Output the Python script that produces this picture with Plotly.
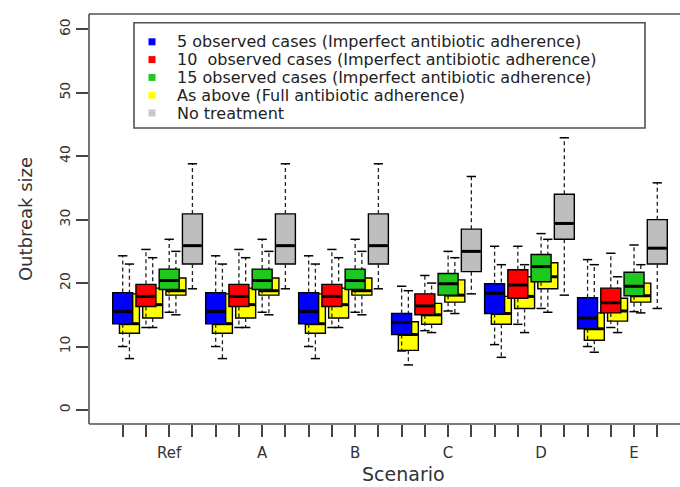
import plotly.graph_objects as go

scenarios = ["Ref", "A", "B", "C", "D", "E"]

# 5 observed cases (imperfect adherence) - blue
blue_lo  = [10.0, 10.0, 10.0, 9.3, 10.3, 10.0]
blue_q1  = [13.6, 13.6, 13.6, 11.9, 15.2, 12.8]
blue_med = [15.5, 15.5, 15.5, 13.8, 18.4, 14.5]
blue_q3  = [18.5, 18.5, 18.5, 15.2, 19.9, 17.7]
blue_hi  = [24.3, 24.3, 24.3, 19.5, 25.8, 23.7]

# 10 observed cases (imperfect adherence) - red
red_lo  = [13.0, 13.0, 13.0, 12.5, 13.5, 13.0]
red_q1  = [16.3, 16.3, 16.3, 15.0, 17.6, 15.3]
red_med = [17.9, 17.9, 17.9, 16.4, 19.7, 16.9]
red_q3  = [19.8, 19.8, 19.8, 18.3, 22.1, 19.2]
red_hi  = [25.3, 25.3, 25.3, 21.2, 25.8, 24.7]

# 15 observed cases (imperfect adherence) - green
green_lo  = [15.4, 15.4, 15.4, 15.6, 16.0, 15.5]
green_q1  = [19.0, 19.0, 19.0, 18.1, 20.2, 18.0]
green_med = [20.4, 20.4, 20.4, 19.9, 22.6, 19.5]
green_q3  = [22.2, 22.2, 22.2, 21.5, 24.5, 21.7]
green_hi  = [26.9, 26.9, 26.9, 25.0, 27.8, 26.0]

# Full adherence (yellow) for 5 / 10 / 15 observed cases
y5_lo  = [8.1, 8.1, 8.1, 7.1, 8.3, 9.1]
y5_q1  = [12.1, 12.1, 12.1, 9.4, 13.5, 11.0]
y5_med = [13.6, 13.6, 13.6, 11.9, 15.2, 12.8]
y5_q3  = [18.3, 18.3, 18.3, 13.9, 17.9, 15.3]
y5_hi  = [23.0, 23.0, 23.0, 18.8, 22.9, 22.9]

y10_lo  = [13.0, 13.0, 13.0, 12.2, 12.2, 12.2]
y10_q1  = [14.5, 14.5, 14.5, 13.5, 16.0, 14.0]
y10_med = [16.6, 16.6, 16.6, 15.0, 17.9, 15.6]
y10_q3  = [19.2, 19.2, 19.2, 16.8, 21.0, 17.6]
y10_hi  = [24.0, 24.0, 24.0, 20.0, 22.9, 21.0]

y15_lo  = [15.0, 15.0, 15.0, 15.2, 15.4, 15.3]
y15_q1  = [18.1, 18.1, 18.1, 17.0, 19.1, 17.0]
y15_med = [18.8, 18.8, 18.8, 18.1, 21.0, 18.0]
y15_q3  = [20.8, 20.8, 20.8, 20.5, 23.2, 20.0]
y15_hi  = [25.0, 25.0, 25.0, 24.0, 26.9, 22.9]

# No treatment - gray
gray_lo  = [19.1, 19.1, 19.1, 18.3, 18.1, 16.0]
gray_q1  = [23.0, 23.0, 23.0, 21.8, 26.9, 23.0]
gray_med = [25.9, 25.9, 25.9, 25.0, 29.4, 25.5]
gray_q3  = [30.9, 30.9, 30.9, 28.5, 34.0, 30.0]
gray_hi  = [38.8, 38.8, 38.8, 36.8, 42.9, 35.8]

legend_names = [
    "5 observed cases (Imperfect antibiotic adherence)",
    "10  observed cases (Imperfect antibiotic adherence)",
    "15 observed cases (Imperfect antibiotic adherence)",
    "As above (Full antibiotic adherence)",
    "No treatment",
]

BLUE, RED, GREEN, YELLOW, GRAY = "#0000ff", "#ff0000", "#1ec81e", "#ffff00", "#bebebe"
LEGEND_COLORS = [BLUE, RED, GREEN, YELLOW, "#c8c8c8"]
BOX_W = 0.86
CAP = 0.40
Y_OFF = 0.29
FONT = "DejaVu Sans"
FRAME = "#505050"

# plot-area geometry in pixels (for legend / title placement)
W, H = 680, 487
ML, MR, MT, MB = 89, 0, 14, 63
PW, PH = W - ML - MR, H - MT - MB

fig = go.Figure()


def add_series(slot, offset, lo, q1, med, q3, hi, color, z):
    xs = [1 + 4 * g + slot + offset for g in range(len(scenarios))]
    fig.add_trace(go.Box(
        x=xs, q1=q1, median=med, q3=q3, lowerfence=q1, upperfence=q3,
        width=BOX_W, fillcolor=color, line=dict(color="black", width=1.4),
        whiskerwidth=0, boxpoints=False, showlegend=False, hoverinfo="skip",
        zorder=z))
    wx, wy = [], []
    for x, a, b, c, d in zip(xs, lo, q1, q3, hi):
        wx += [x, x, None, x, x, None]
        wy += [b, a, None, c, d, None]
    fig.add_trace(go.Scatter(
        x=wx, y=wy, mode="lines",
        line=dict(color="#222222", width=1.3, dash="4px,3px"),
        showlegend=False, hoverinfo="skip", zorder=z))
    cx, cy = [], []
    for x, a, d in zip(xs, lo, hi):
        cx += [x - CAP / 2, x + CAP / 2, None, x - CAP / 2, x + CAP / 2, None]
        cy += [a, a, None, d, d, None]
    fig.add_trace(go.Scatter(
        x=cx, y=cy, mode="lines", line=dict(color="black", width=1.5),
        showlegend=False, hoverinfo="skip", zorder=z))
    mx, my = [], []
    for x, m in zip(xs, med):
        mx += [x - BOX_W / 2 + 0.03, x + BOX_W / 2 - 0.03, None]
        my += [m, m, None]
    fig.add_trace(go.Scatter(
        x=mx, y=my, mode="lines", line=dict(color="black", width=3),
        showlegend=False, hoverinfo="skip", zorder=z))


# full adherence boxes behind
add_series(0, Y_OFF, y5_lo, y5_q1, y5_med, y5_q3, y5_hi, YELLOW, 0)
add_series(1, Y_OFF, y10_lo, y10_q1, y10_med, y10_q3, y10_hi, YELLOW, 0)
add_series(2, Y_OFF, y15_lo, y15_q1, y15_med, y15_q3, y15_hi, YELLOW, 0)
# imperfect adherence + no treatment in front
add_series(0, 0, blue_lo, blue_q1, blue_med, blue_q3, blue_hi, BLUE, 1)
add_series(1, 0, red_lo, red_q1, red_med, red_q3, red_hi, RED, 1)
add_series(2, 0, green_lo, green_q1, green_med, green_q3, green_hi, GREEN, 1)
add_series(3, 0, gray_lo, gray_q1, gray_med, gray_q3, gray_hi, GRAY, 1)

n_pos = 4 * len(scenarios)
tickvals = list(range(1, n_pos + 1))
ticktext = [scenarios[i // 4] if i % 4 == 2 else "" for i in range(n_pos)]


def px_x(p):
    return (p - ML) / PW


def px_y(p):
    return (H - MB - p) / PH


# frame (left, bottom, top; right side lies outside the picture)
shapes = [
    dict(type="line", xref="paper", yref="paper", x0=0, x1=0, y0=0, y1=1,
         line=dict(color=FRAME, width=1.6), layer="above"),
    dict(type="line", xref="paper", yref="paper", x0=0, x1=1.05, y0=0, y1=0,
         line=dict(color=FRAME, width=1.6), layer="above"),
    dict(type="line", xref="paper", yref="paper", x0=0, x1=1.05, y0=1, y1=1,
         line=dict(color=FRAME, width=1.6), layer="above"),
]

# legend box
shapes.append(dict(type="rect", xref="paper", yref="paper",
                   x0=px_x(134), x1=px_x(645), y0=px_y(128), y1=px_y(22.7),
                   line=dict(color=FRAME, width=1.6), fillcolor="white", layer="above"))
annotations = []
for i, (name, col) in enumerate(zip(legend_names, LEGEND_COLORS)):
    yc = 41.8 + 17.8 * i
    shapes.append(dict(type="rect", xref="paper", yref="paper",
                       x0=px_x(152 - 3.5), x1=px_x(152 + 3.5),
                       y0=px_y(yc + 3.5), y1=px_y(yc - 3.5),
                       line=dict(width=0), fillcolor=col, layer="above"))
    annotations.append(dict(xref="paper", yref="paper", x=px_x(176), y=px_y(yc),
                            xanchor="left", yanchor="middle", showarrow=False,
                            borderpad=0,
                            text=name, font=dict(family=FONT, size=16, color="#222222")))

# x-axis title (R places it slightly right of the visible plot centre)
annotations.append(dict(xref="paper", yref="paper", x=px_x(403), y=px_y(486),
                        xanchor="center", yanchor="bottom", showarrow=False,
                        borderpad=0,
                        text="Scenario", font=dict(family=FONT, size=19, color="#333333")))

fig.update_layout(
    width=W, height=H,
    margin=dict(l=ML, r=MR, t=MT, b=MB),
    paper_bgcolor="white", plot_bgcolor="white",
    font=dict(family=FONT, size=16, color="#333333"),
    boxmode="overlay",
    showlegend=False,
    shapes=shapes,
    annotations=annotations,
    xaxis=dict(
        range=[-0.45, 24.977], tickmode="array", tickvals=tickvals, ticktext=ticktext,
        ticks="outside", ticklen=12, tickwidth=1.5, tickcolor="#444444",
        ticklabelstandoff=3,
        showline=False, showgrid=False, zeroline=False,
        tickfont=dict(family=FONT, size=15, color="#333333"),
    ),
    yaxis=dict(
        range=[-2.21, 62.41], tickmode="array", tickvals=[0, 10, 20, 30, 40, 50, 60],
        tickangle=-90,
        ticks="outside", ticklen=12, tickwidth=1.5, tickcolor="#444444",
        showline=False, showgrid=False, zeroline=False,
        tickfont=dict(family=FONT, size=14, color="#333333"),
        title=dict(text="Outbreak size", font=dict(family=FONT, size=18, color="#333333"), standoff=20),
    ),
)

fig.write_html("out.html")
